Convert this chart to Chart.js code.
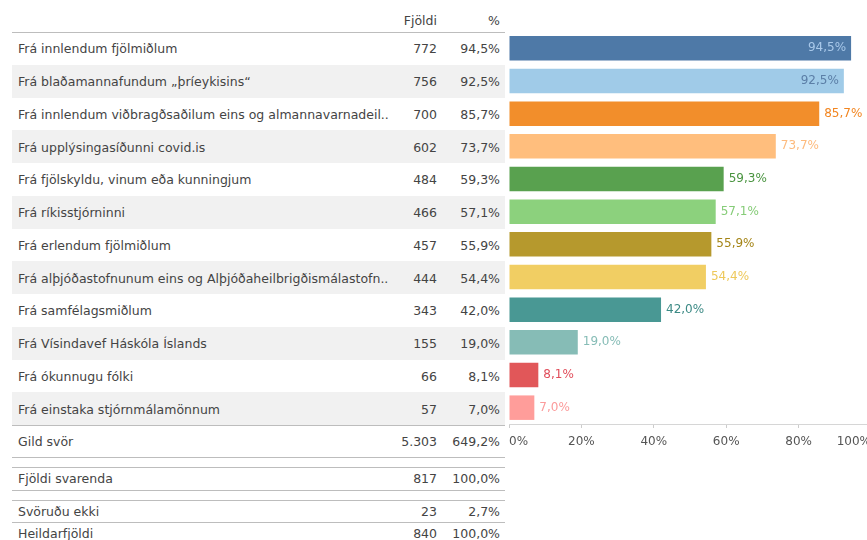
<!DOCTYPE html>
<html>
<head>
<meta charset="utf-8">
<script src="https://cdn.jsdelivr.net/npm/chart.js@4/dist/chart.umd.min.js"></script>
<style>
  body { margin: 0; width: 867px; height: 540px; overflow: hidden; background: #fff;
         font-family: "DejaVu Sans", sans-serif; font-size: 12.5px; color: #444; position: relative; }
  .row { position: absolute; left: 12px; width: 493px; }
  .row span { position: absolute; top: 50%; transform: translateY(-50%); white-space: nowrap; }
  .lbl { left: 6px; }
  .cnt { right: 68px; }
  .pct { right: 5px; }
  .gray { background: #f1f1f1; }
  .line { position: absolute; left: 12px; width: 493px; height: 0; border-top: 1px solid #bdbdbd; }
  #wrap { position: absolute; left: 480px; top: 0; width: 420px; height: 460px; }
</style>
</head>
<body>
<div id="table"></div>
<div id="wrap"><canvas id="bars"></canvas></div>
<script>
// Flokkar (svarmöguleikar)
var flokkar = [
  'Frá innlendum fjölmiðlum',
  'Frá blaðamannafundum „þríeykisins“',
  'Frá innlendum viðbragðsaðilum eins og almannavarnadeil..',
  'Frá upplýsingasíðunni covid.is',
  'Frá fjölskyldu, vinum eða kunningjum',
  'Frá ríkisstjórninni',
  'Frá erlendum fjölmiðlum',
  'Frá alþjóðastofnunum eins og Alþjóðaheilbrigðismálastofn..',
  'Frá samfélagsmiðlum',
  'Frá Vísindavef Háskóla Íslands',
  'Frá ókunnugu fólki',
  'Frá einstaka stjórnmálamönnum'
];

// Fjöldi og hlutfall
var fjoldi = [772, 756, 700, 602, 484, 466, 457, 444, 343, 155, 66, 57];
var hlutfall = [94.5, 92.5, 85.7, 73.7, 59.3, 57.1, 55.9, 54.4, 42.0, 19.0, 8.1, 7.0];

// Samtölur neðst í töflunni
var samtala_heiti = ['Gild svör', 'Fjöldi svarenda', 'Svöruðu ekki', 'Heildarfjöldi'];
var samtala_fjoldi = ['5.303', '817', '23', '840'];
var samtala_hlutfall = [649.2, 100.0, 2.7, 100.0];

// Ásmerki
var x_ticks = [0, 20, 40, 60, 80, 100];

// Litir á súlum og merkingum
var litir = ['#4e79a7', '#a0cbe8', '#f28e2b', '#ffbe7d', '#59a14f', '#8cd17d',
             '#b6992d', '#f1ce63', '#499894', '#86bcb6', '#e15759', '#ff9d9a'];
var texta_litir = ['#a9c9ea', '#5b7ea6', '#f2851f', '#fdbb7e', '#4a9440', '#86cc78',
                   '#a48416', '#eec85a', '#3c8a85', '#86bcb6', '#e04d5a', '#fb9b9b'];

function pct(v){
    return v.toFixed(1).replace('.', ',') + '%';
}

// Tafla til vinstri
var top0 = 32, rowH = 32.75;
var html = '';
html += '<div class="row" style="top:8px;height:24px"><span class="cnt">Fjöldi</span><span class="pct">%</span></div>';
html += '<div class="line" style="top:32px"></div>';
for (var i = 0; i < flokkar.length; i++) {
    html += '<div class="row' + (i % 2 == 1 ? ' gray' : '') + '" style="top:' + (top0 + i * rowH) + 'px;height:' + rowH + 'px">' +
        '<span class="lbl">' + flokkar[i] + '</span>' +
        '<span class="cnt">' + fjoldi[i] + '</span>' +
        '<span class="pct">' + pct(hlutfall[i]) + '</span></div>';
}
// línur og samtölur
var linur = [425, 457, 467, 490, 500, 522];
for (var j = 0; j < linur.length; j++) {
    html += '<div class="line" style="top:' + linur[j] + 'px"></div>';
}
var midjur = [441, 478, 511, 533];
for (var k = 0; k < samtala_heiti.length; k++) {
    html += '<div class="row" style="top:' + (midjur[k] - 10) + 'px;height:20px">' +
        '<span class="lbl">' + samtala_heiti[k] + '</span>' +
        '<span class="cnt">' + samtala_fjoldi[k] + '</span>' +
        '<span class="pct">' + pct(samtala_hlutfall[k]) + '</span></div>';
}
document.getElementById('table').innerHTML = html;

// Merkingar á súlum
var barLabels = {
    id: 'barLabels',
    afterDatasetsDraw: function(chart) {
        var ctx = chart.ctx;
        var meta = chart.getDatasetMeta(0);
        ctx.save();
        ctx.font = '12px "DejaVu Sans", sans-serif';
        ctx.textBaseline = 'middle';
        meta.data.forEach(function(bar, i) {
            var txt = pct(hlutfall[i]);
            ctx.fillStyle = texta_litir[i];
            if (i < 2) {
                ctx.textAlign = 'right';
                ctx.fillText(txt, bar.x - 5, bar.y);
            } else {
                ctx.textAlign = 'left';
                ctx.fillText(txt, bar.x + 5, bar.y);
            }
        });
        ctx.restore();
    }
};

// Súlurit
var ctx = document.getElementById('bars');
var bars_chart = new Chart(ctx, {
    type: 'bar',
    data: {
        labels: flokkar,
        datasets: [{
            data: hlutfall,
            backgroundColor: litir,
            borderWidth: 0,
            categoryPercentage: 1,
            barPercentage: 0.75
        }]
    },
    options: {
        indexAxis: 'y',
        responsive: true,
        maintainAspectRatio: false,
        animation: false,
        layout: { padding: { left: 29, right: 29, top: 32, bottom: 0 } },
        plugins: { legend: { display: false }, tooltip: { enabled: false } },
        scales: {
            y: { display: false },
            x: {
                min: 0,
                max: 100,
                afterFit: function(scale) { scale.height = 36; },
                afterBuildTicks: function(scale) {
                    scale.ticks = x_ticks.map(function(v) { return { value: v }; });
                },
                grid: { drawOnChartArea: false, drawTicks: true, tickLength: 4, color: '#cccccc' },
                border: { color: '#d6d6d6' },
                ticks: {
                    padding: 7,
                    align: 'inner',
                    color: '#555',
                    font: { family: '"DejaVu Sans", sans-serif', size: 12 },
                    maxRotation: 0,
                    callback: function(v) { return v + '%'; }
                }
            }
        }
    },
    plugins: [barLabels]
});
</script>
</body>
</html>
